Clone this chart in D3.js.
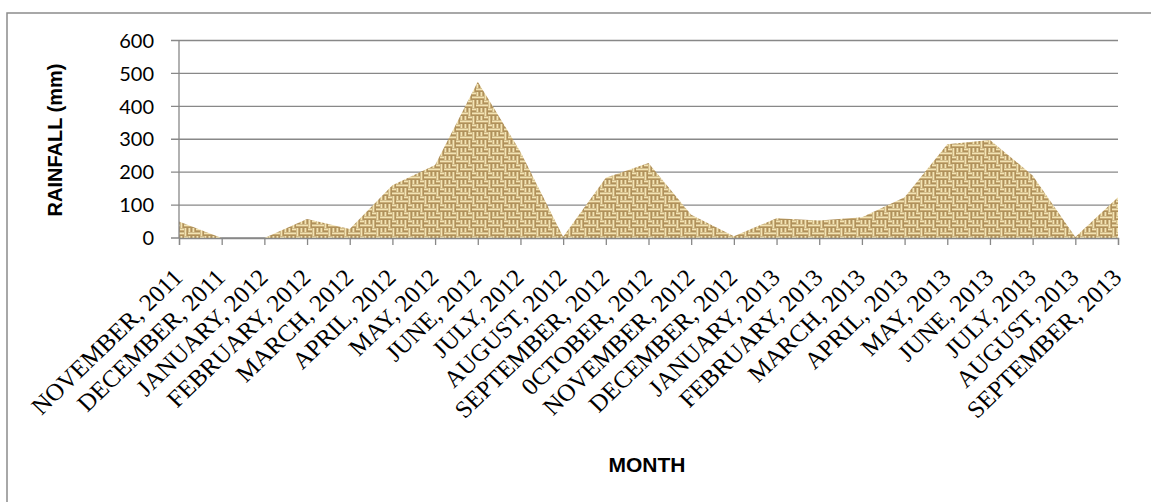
<!DOCTYPE html>
<html>
<head>
<meta charset="utf-8">
<script src="https://cdn.jsdelivr.net/npm/d3@7"></script>
<style>
  html, body { margin: 0; padding: 0; background: #fff; }
  svg { display: block; }
</style>
</head>
<body>
<svg id="chart" width="1151" height="502"></svg>
<script>
const categories = [
  "NOVEMBER, 2011", "DECEMBER, 2011", "JANUARY, 2012", "FEBRUARY, 2012", "MARCH, 2012",
  "APRIL, 2012", "MAY, 2012", "JUNE, 2012", "JULY, 2012", "AUGUST, 2012",
  "SEPTEMBER, 2012", "0CTOBER, 2012", "NOVEMBER, 2012", "DECEMBER, 2012",
  "JANUARY, 2013", "FEBRUARY, 2013", "MARCH, 2013", "APRIL, 2013", "MAY, 2013",
  "JUNE, 2013", "JULY, 2013", "AUGUST, 2013", "SEPTEMBER, 2013"
];
const rainfall = [50, 0, 0, 58, 27, 160, 222, 475, 262, 4, 183, 228, 71, 5, 60, 53, 63, 124, 285, 298, 190, 3, 124];
const yTicks = [0, 100, 200, 300, 400, 500, 600];
const yTitle = "RAINFALL (mm)";
const xTitle = "MONTH";

const svg = d3.select("#chart");

// outer chart frame
svg.append("rect")
  .attr("x", 7).attr("y", 13)
  .attr("width", 1200).attr("height", 600)
  .attr("fill", "none").attr("stroke", "#8c8c8c").attr("stroke-width", 1.5);

const x = d3.scalePoint().domain(categories).range([179, 1118]).padding(0);
const y = d3.scaleLinear().domain([0, 600]).range([238, 40.5]);

// burlap-like texture pattern (woven maze of short strands)
const defs = svg.append("defs");
const pat = defs.append("pattern")
  .attr("id", "burlap").attr("patternUnits", "userSpaceOnUse")
  .attr("width", 16).attr("height", 16);
pat.append("rect").attr("width", 16).attr("height", 16).attr("fill", "#a0804b");
const weave = ["HVHH", "VHVV", "HHVH", "VVHV"];
const light = "#f3e4b4", mid = "#d3b781";
weave.forEach((row, r) => {
  row.split("").forEach((o, c) => {
    const cx = c * 4, cy = r * 4;
    if (o === "H") {
      pat.append("rect").attr("x", cx).attr("y", cy + 0.4).attr("width", 4).attr("height", 1.6).attr("fill", light);
      pat.append("rect").attr("x", cx).attr("y", cy + 2.2).attr("width", 4).attr("height", 1.1).attr("fill", mid);
    } else {
      pat.append("rect").attr("x", cx + 0.4).attr("y", cy).attr("width", 1.6).attr("height", 4).attr("fill", light);
      pat.append("rect").attr("x", cx + 2.2).attr("y", cy).attr("width", 1.1).attr("height", 4).attr("fill", mid);
    }
  });
});

// gridlines
svg.append("g").selectAll("line").data(yTicks).join("line")
  .attr("x1", 171).attr("x2", 1118)
  .attr("y1", d => y(d)).attr("y2", d => y(d))
  .attr("stroke", "#888").attr("stroke-width", 1.3);

// area
const area = d3.area()
  .x((d, i) => x(categories[i]))
  .y0(y(0))
  .y1(d => y(d));
svg.append("path").datum(rainfall)
  .attr("d", area)
  .attr("fill", "url(#burlap)");

// y axis line
svg.append("line").attr("x1", 179).attr("x2", 179).attr("y1", y(600)).attr("y2", y(0))
  .attr("stroke", "#888").attr("stroke-width", 1.3);

// x axis
const xAxis = d3.axisBottom(x).tickSize(7).tickFormat("");
const gx = svg.append("g").attr("transform", `translate(0,${y(0)})`).call(xAxis);
gx.select(".domain").attr("stroke", "#888").attr("stroke-width", 1.3);
gx.selectAll(".tick line").attr("stroke", "#888").attr("stroke-width", 1.3);

// x labels
svg.append("g").selectAll("text").data(categories).join("text")
  .attr("transform", d => `translate(${x(d) + 5},279) scale(1.04,1) rotate(-45)`)
  .attr("text-anchor", "end")
  .attr("font-family", "'Liberation Serif', 'Times New Roman', serif")
  .attr("font-size", 24)
  .attr("fill", "#000")
  .text(d => d);

// y labels
svg.append("g").selectAll("text").data(yTicks).join("text")
  .attr("x", 154).attr("y", d => y(d))
  .attr("dy", "0.36em")
  .attr("text-anchor", "end")
  .attr("font-family", "Lato, 'Open Sans', sans-serif")
  .attr("font-size", 20)
  .attr("fill", "#000")
  .text(d => d);

// titles
svg.append("text")
  .attr("transform", "translate(62,140) rotate(-90)")
  .attr("text-anchor", "middle")
  .attr("font-family", "'Liberation Sans', Arial, sans-serif")
  .attr("font-weight", "bold").attr("font-size", 20)
  .text(yTitle);

svg.append("text")
  .attr("x", 647).attr("y", 472)
  .attr("text-anchor", "middle")
  .attr("font-family", "'Liberation Sans', Arial, sans-serif")
  .attr("font-weight", "bold").attr("font-size", 21)
  .text(xTitle);
</script>
</body>
</html>
